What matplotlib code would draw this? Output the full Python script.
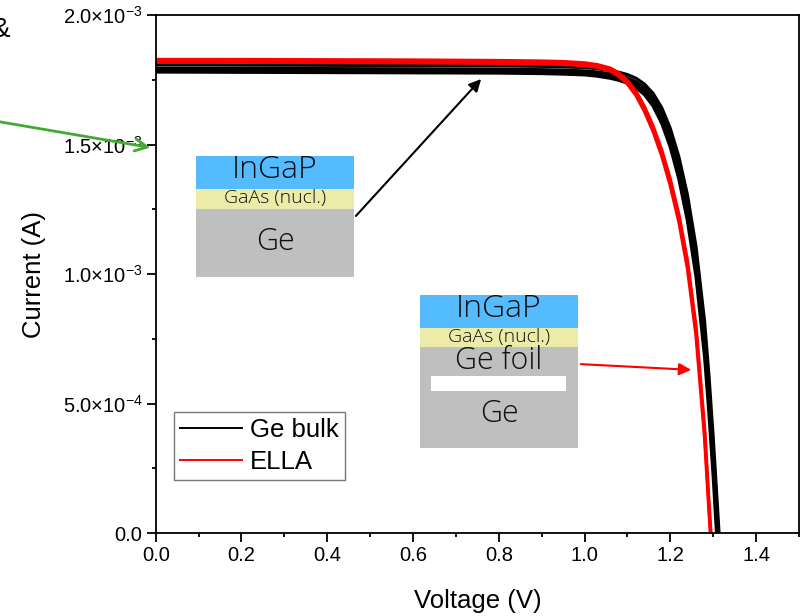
import numpy as np
import matplotlib
matplotlib.use('Agg')
import matplotlib.pyplot as plt
from matplotlib.ticker import MultipleLocator, FixedLocator, FixedFormatter
from matplotlib.lines import Line2D
from matplotlib.patches import Rectangle

plt.rcParams['font.family'] = 'Liberation Sans'
plt.rcParams['mathtext.fontset'] = 'custom'
plt.rcParams['mathtext.rm'] = 'Liberation Sans'
plt.rcParams['mathtext.it'] = 'Liberation Sans:italic'

# voltage grid (V), shared by all sweeps
volt = [0.0, 0.2, 0.4, 0.6, 0.8, 0.9, 0.95, 1.0, 1.03, 1.06, 1.08, 1.10,
        1.12, 1.14, 1.16, 1.18, 1.20, 1.22, 1.24, 1.26, 1.28, 1.29, 1.30, 1.31, 1.32]

# Ge bulk cells (mA)
bulk_1 = [1.808, 1.807, 1.806, 1.805, 1.804, 1.802, 1.800, 1.797, 1.793, 1.786, 1.779, 1.770,
          1.756, 1.733, 1.697, 1.642, 1.562, 1.452, 1.305, 1.105, 0.815, 0.610, 0.370, 0.100, -0.180]
bulk_2 = [1.795, 1.794, 1.793, 1.792, 1.791, 1.789, 1.787, 1.784, 1.780, 1.773, 1.766, 1.757,
          1.742, 1.718, 1.679, 1.620, 1.535, 1.420, 1.266, 1.060, 0.765, 0.560, 0.325, 0.055, -0.220]
bulk_3 = [1.788, 1.787, 1.786, 1.785, 1.784, 1.782, 1.780, 1.777, 1.773, 1.766, 1.759, 1.749,
          1.733, 1.707, 1.666, 1.604, 1.516, 1.397, 1.240, 1.030, 0.730, 0.520, 0.280, 0.010, -0.260]
bulk_4 = [1.780, 1.779, 1.778, 1.777, 1.776, 1.774, 1.772, 1.769, 1.764, 1.756, 1.748, 1.737,
          1.720, 1.692, 1.648, 1.582, 1.490, 1.367, 1.205, 0.990, 0.680, 0.465, 0.220, -0.060, -0.340]
# ELLA cells (mA)
ella_1 = [1.828, 1.828, 1.827, 1.826, 1.824, 1.822, 1.820, 1.815, 1.808, 1.795, 1.776, 1.747,
          1.705, 1.645, 1.570, 1.478, 1.365, 1.228, 1.050, 0.795, 0.400, 0.120, -0.140, -0.400, -0.650]
ella_2 = [1.818, 1.818, 1.817, 1.816, 1.814, 1.812, 1.810, 1.805, 1.798, 1.784, 1.764, 1.734,
          1.690, 1.628, 1.551, 1.457, 1.342, 1.203, 1.023, 0.766, 0.370, 0.095, -0.160, -0.420, -0.670]

bulk_runs = [bulk_1, bulk_2, bulk_3, bulk_4]
ella_runs = [ella_1, ella_2]

ytick_vals = [0.0, 5.0e-4, 1.0e-3, 1.5e-3, 2.0e-3]
ytick_labels = ['0.0', r'$5.0{\times}10^{-4}$', r'$1.0{\times}10^{-3}$',
                r'$1.5{\times}10^{-3}$', r'$2.0{\times}10^{-3}$']

fig = plt.figure(figsize=(8.04, 6.16), dpi=100)
ax = fig.add_axes([0.1937, 0.1347, 0.8, 0.8409])

v = np.array(volt)
for run in bulk_runs:
    ax.plot(v, np.array(run) * 1e-3, '-', color='black', lw=2.3)
for run in ella_runs:
    ax.plot(v, np.array(run) * 1e-3, '-', color='red', lw=2.5)

ax.set_xlim(0, 1.5)
ax.set_ylim(0, 2.0e-3)
ax.xaxis.set_major_locator(MultipleLocator(0.2))
ax.xaxis.set_minor_locator(MultipleLocator(0.1))
ax.yaxis.set_major_locator(FixedLocator(ytick_vals))
ax.yaxis.set_major_formatter(FixedFormatter(ytick_labels))
ax.yaxis.set_minor_locator(MultipleLocator(2.5e-4))
ax.tick_params(which='both', direction='out', top=False, right=False, width=1.3, labelsize=14.5, pad=3)
ax.tick_params(which='major', length=6.5)
ax.tick_params(which='minor', length=3)
for s in ax.spines.values():
    s.set_linewidth(1.3)

ax.set_xlabel('Voltage (V)', fontsize=18.5, labelpad=17)
ax.set_ylabel('Current (A)', fontsize=18.5, labelpad=12)

handles = [Line2D([], [], color='black', lw=1.4), Line2D([], [], color='red', lw=1.4)]
leg = ax.legend(handles, ['Ge bulk', 'ELLA'], loc='upper left', bbox_to_anchor=(0.028, 0.234),
                borderaxespad=0, fontsize=18.5, frameon=True, fancybox=False,
                handlelength=2.4, handletextpad=0.3, labelspacing=0.3, borderpad=0.25)
leg.get_frame().set_edgecolor('#555555')
leg.get_frame().set_linewidth(1.0)

# layer stack sketches, placed in figure pixels (origin bottom-left)
H = 616
def block(x0, x1, y0, y1, color):
    fig.add_artist(Rectangle((x0, H - y1), x1 - x0, y1 - y0, transform=None,
                             facecolor=color, edgecolor='none'))

def label(x, y, s, size):
    fig.text(x / 804, 1 - y / H, s, ha='center', va='center', fontsize=size,
             family='Open Sans', fontweight='light', color='#111111')

block(196, 354, 156, 189, '#55bbff')
block(196, 354, 189, 209, '#ececa8')
block(196, 354, 209, 277, '#bfbfbf')
label(275, 170, 'InGaP', 23)
label(275, 198, 'GaAs (nucl.)', 14)
label(275, 242, 'Ge', 22)

block(420, 578, 295, 328, '#55bbff')
block(420, 578, 328, 347, '#ececa8')
block(420, 578, 347, 448, '#bfbfbf')
label(499, 309, 'InGaP', 23)
label(499, 337, 'GaAs (nucl.)', 14)
label(499, 361, 'Ge foil', 22)
block(431, 566, 376, 391, 'white')
label(499, 414, 'Ge', 22)

ax.annotate('', xy=(483, H - 77), xytext=(354, H - 218), xycoords='figure pixels',
            textcoords='figure pixels', annotation_clip=False,
            arrowprops=dict(arrowstyle='-|>', color='black', lw=1.5, mutation_scale=18))
ax.annotate('', xy=(694, H - 370), xytext=(578, H - 364), xycoords='figure pixels',
            textcoords='figure pixels', annotation_clip=False,
            arrowprops=dict(arrowstyle='-|>', color='red', lw=1.5, mutation_scale=18))
ax.annotate('', xy=(153, H - 148), xytext=(-5, H - 121), xycoords='figure pixels',
            textcoords='figure pixels', annotation_clip=False,
            arrowprops=dict(arrowstyle='->', color='#44aa33', lw=2.0, mutation_scale=22))

fig.text(11 / 804, 1 - 30 / H, '&', ha='right', va='center', fontsize=20)

fig.savefig('out.png', dpi=100)
